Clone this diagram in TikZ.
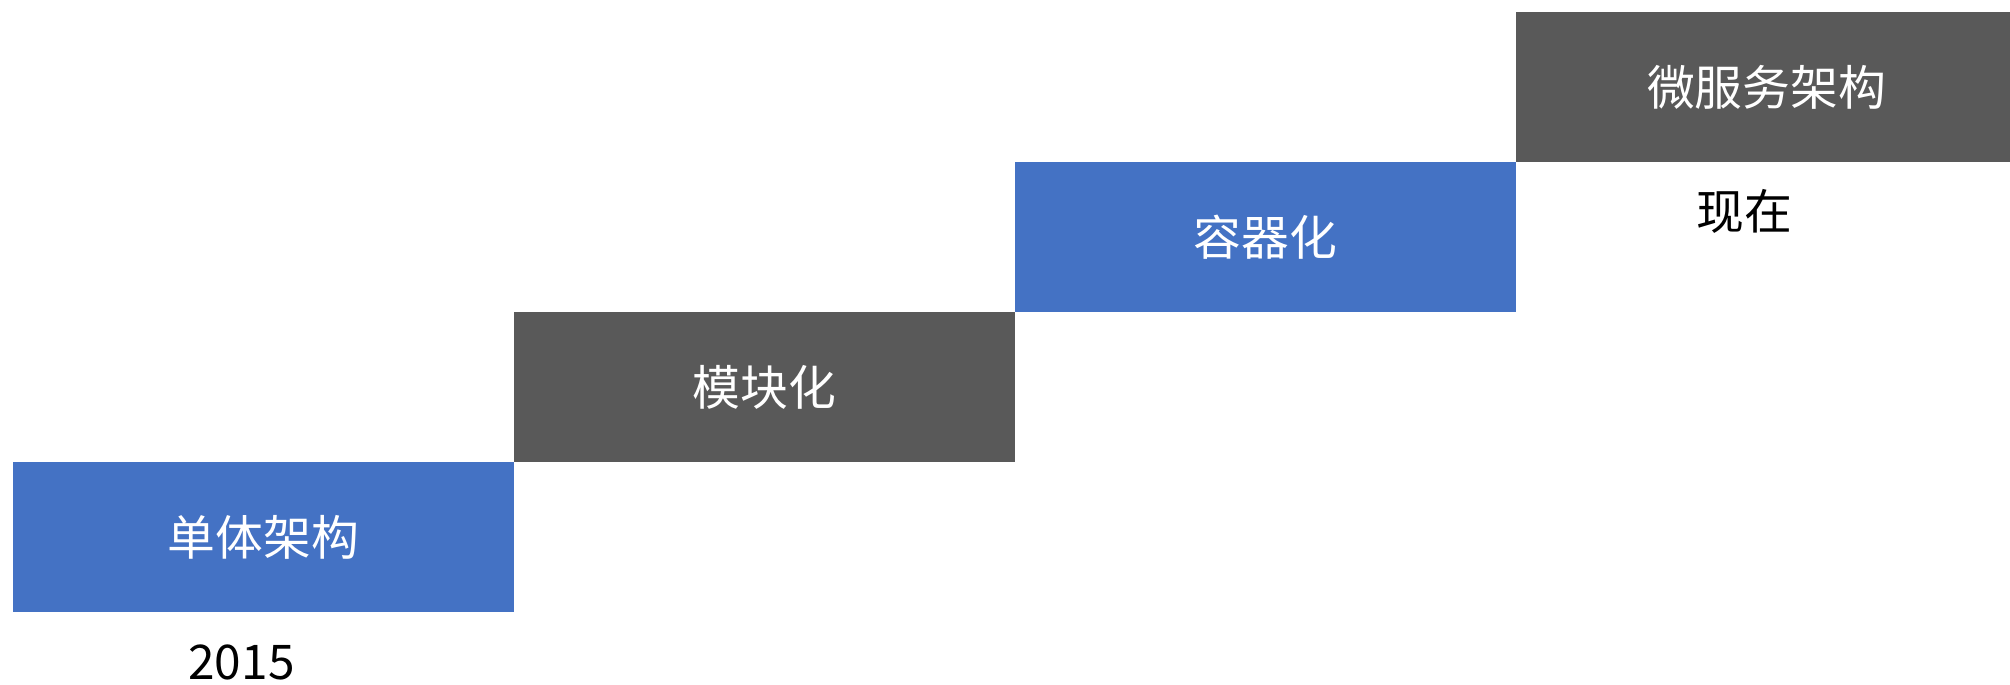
\documentclass[tikz,border=0pt]{standalone}
\usepackage{fontspec}
\setmainfont{Noto Sans CJK SC}
\usepackage{tikz}
\usetikzlibrary{positioning}

\definecolor{stepblue}{HTML}{4472C4}
\definecolor{stepgray}{HTML}{595959}

\begin{document}
\begin{tikzpicture}[node distance=0pt]
    \tikzset{stage/.style={minimum width=5.01cm, minimum height=1.5cm, inner sep=0pt, outer sep=0pt, text=white, font=\fontsize{13.6}{16}\selectfont}}
    \tikzset{timelabel/.style={inner sep=0pt, outer sep=0pt, text=black, font=\fontsize{13.6}{16}\selectfont}}
    \useasboundingbox (0,0) rectangle (20.10,6.84);

    \node[stage, fill=stepblue, anchor=south west] (monolith) at (0.13,0.72) {单体架构};
    \node[stage, fill=stepgray, above right=of monolith]  (modular)      {模块化};
    \node[stage, fill=stepblue, above right=of modular]   (container)    {容器化};
    \node[stage, fill=stepgray, above right=of container] (microservice) {微服务架构};

    \node[timelabel, below=0.33cm of monolith, xshift=-0.22cm]     (start) {2015};
    \node[timelabel, below=0.27cm of microservice, xshift=-0.22cm] (now)   {现在};
\end{tikzpicture}
\end{document}
